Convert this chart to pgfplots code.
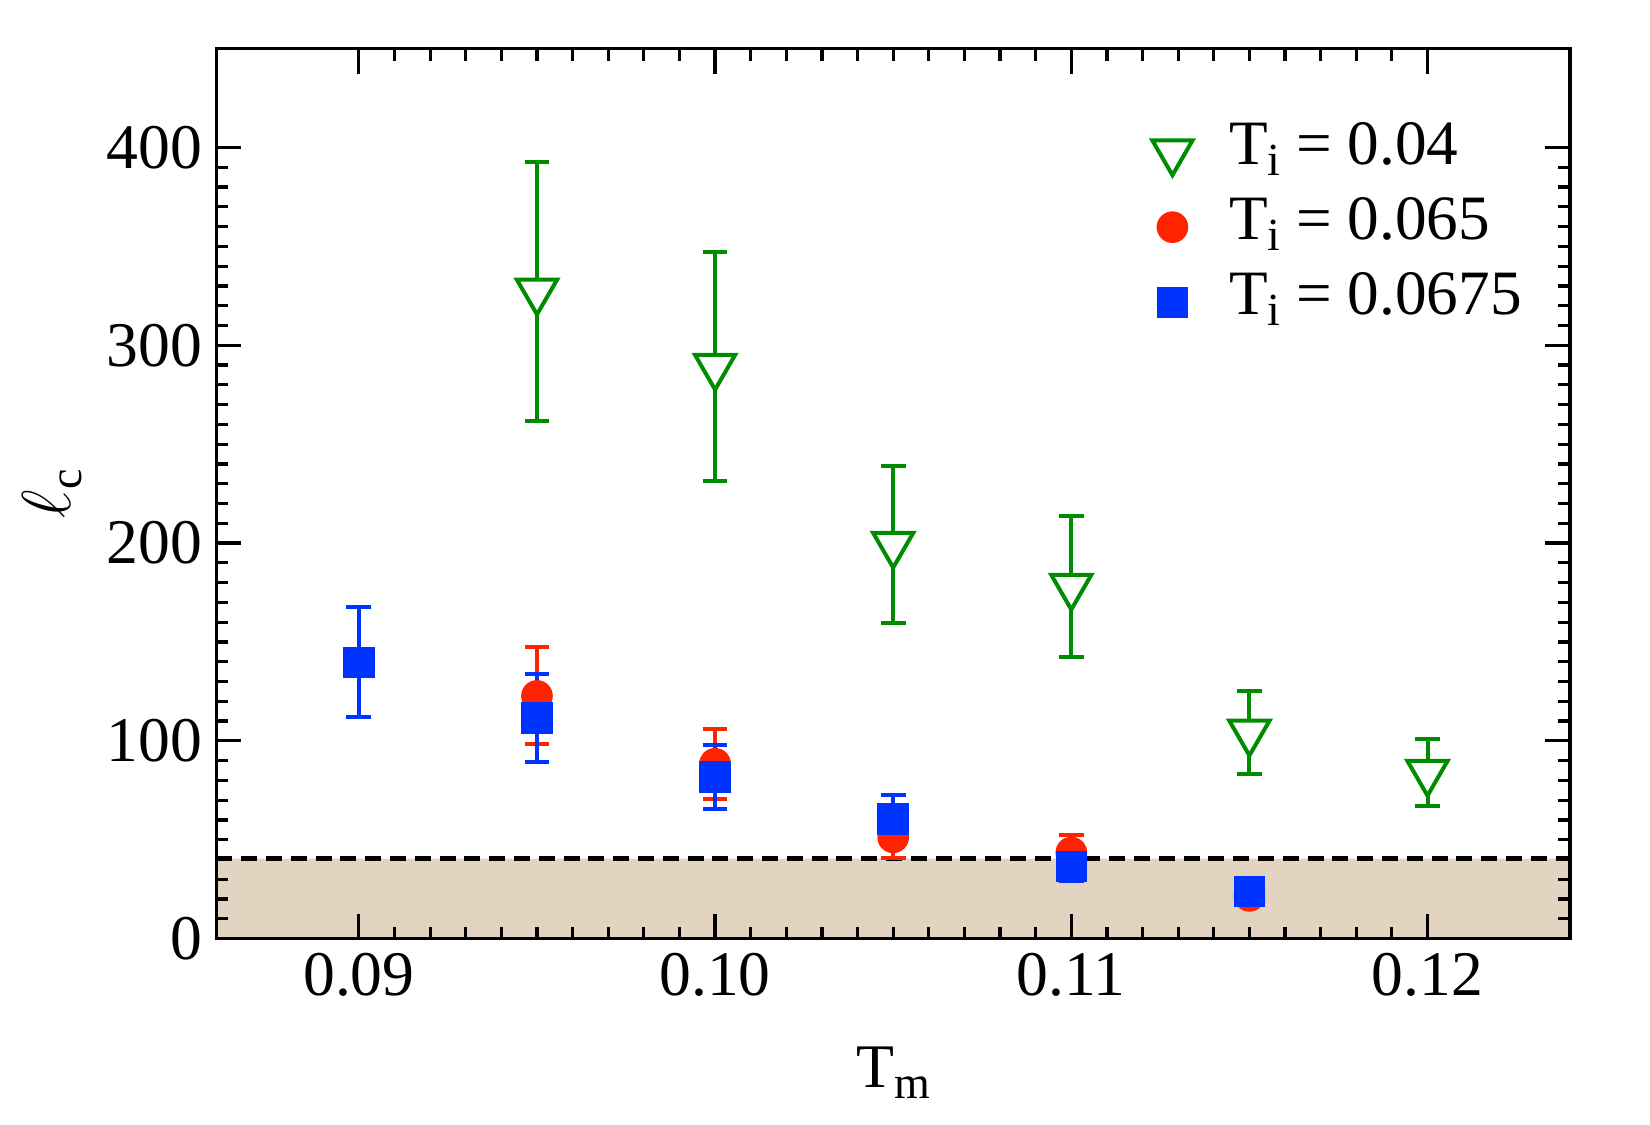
\documentclass[border=0pt]{standalone}
\usepackage{fontspec}
\setmainfont{Liberation Serif}
\usepackage{pgfplots}
\pgfplotsset{compat=1.18}

\definecolor{serA}{RGB}{0,140,0}
\definecolor{serB}{RGB}{255,35,0}
\definecolor{serC}{RGB}{0,51,255}
\definecolor{band}{RGB}{227,211,193}

\newcommand{\mainsize}{\fontsize{15.5}{18}\selectfont}
\newcommand{\legsize}{\fontsize{15.8}{18}\selectfont}
\newcommand{\ticksize}{\fontsize{15.9}{18}\selectfont}
\newcommand{\lowsub}[1]{\raisebox{-2.8pt}{\fontsize{11.5}{12}\selectfont #1}}

% T_i = 0.04
\pgfplotstableread{
x      y      ey
0.095  327.3  65.5
0.100  289.3  57.9
0.105  199.3  39.9
0.110  178.1  35.6
0.115  104.3  20.9
0.120  84.0   16.8
}\serieslow
% T_i = 0.065
\pgfplotstableread{
x      y      ey
0.095  122.7  24.5
0.100  88.4   17.7
0.105  51.2   10.2
0.110  43.5   8.7
0.115  21.6   4.3
}\seriesmid
% T_i = 0.0675
\pgfplotstableread{
x      y      ey
0.090  139.7  27.9
0.095  111.6  22.3
0.100  81.7   16.3
0.105  60.6   12.1
0.110  36.4   7.3
0.115  23.8   4.8
}\serieshigh

\begin{document}
\begin{tikzpicture}
\useasboundingbox (-54.1pt,-46.6pt) rectangle (358.4pt,234.65pt);
\begin{axis}[
  at={(0pt,0pt)}, anchor=south west,
  scale only axis, width=338.4pt, height=222.5pt,
  xmin=0.086, xmax=0.124, ymin=0, ymax=450,
  xtick={0.09,0.10,0.11,0.12}, xticklabels={0.09,0.10,0.11,0.12},
  scaled x ticks=false,
  ytick={0,100,200,300,400},
  minor x tick num=9, minor y tick num=9,
  xtick pos=both, ytick pos=both,
  tick align=inside,
  major tick length=6.25pt, minor tick length=3pt,
  every tick/.style={black, line width=0.8pt},
  axis line style={line width=0.85pt},
  axis on top,
  /pgf/number format/assume math mode=true,
  tick label style={font=\ticksize},
  label style={font=\mainsize},
  xlabel={T\lowsub{m}},
  ylabel={{\fontsize{19}{20}\selectfont$\ell$}\lowsub{c}},
  xlabel style={at={(axis description cs:0.5,-0.151)}, anchor=center},
  ylabel style={at={(axis description cs:-0.121,0.5)}, anchor=center},
  legend cell align=left,
  legend style={draw=none, fill=none, font=\legsize,
    at={(axis description cs:0.682,0.936)}, anchor=north west,
    nodes={inner sep=0.5pt, text height=12pt, text depth=5.8pt},
    /tikz/every odd column/.append style={column sep=8.7pt},
    row sep=0pt},
  error bars/error bar style={line width=1pt},
  error bars/error mark options={rotate=90, mark size=3.1pt, line width=1pt},
]
% shaded band below the threshold
\addplot[draw=none, fill=band, forget plot]
  coordinates {(0.086,0) (0.124,0) (0.124,40.5) (0.086,40.5)} \closedcycle;
\addplot[black, line width=1.1pt, dash pattern=on 4pt off 2.2pt, forget plot]
  coordinates {(0.086,40.5) (0.124,40.5)};

\addplot[serA, only marks, line width=1pt,
  mark=triangle*, mark size=5.8pt,
  mark options={rotate=180, fill=white, draw=serA, line width=1pt},
  error bars/.cd, y dir=both, y explicit]
  table[x=x, y=y, y error=ey] {\serieslow};
\addlegendentry{T\lowsub{i} = 0.04}

\addplot[serB, only marks, line width=1pt,
  mark=*, mark size=3.8pt,
  mark options={fill=serB, draw=serB, line width=0.3pt},
  error bars/.cd, y dir=both, y explicit]
  table[x=x, y=y, y error=ey] {\seriesmid};
\addlegendentry{T\lowsub{i} = 0.065}

\addplot[serC, only marks, line width=1pt,
  mark=square*, mark size=3.8pt,
  mark options={fill=serC, draw=serC, line width=0.3pt},
  error bars/.cd, y dir=both, y explicit]
  table[x=x, y=y, y error=ey] {\serieshigh};
\addlegendentry{T\lowsub{i} = 0.0675}
\end{axis}
\end{tikzpicture}
\end{document}
